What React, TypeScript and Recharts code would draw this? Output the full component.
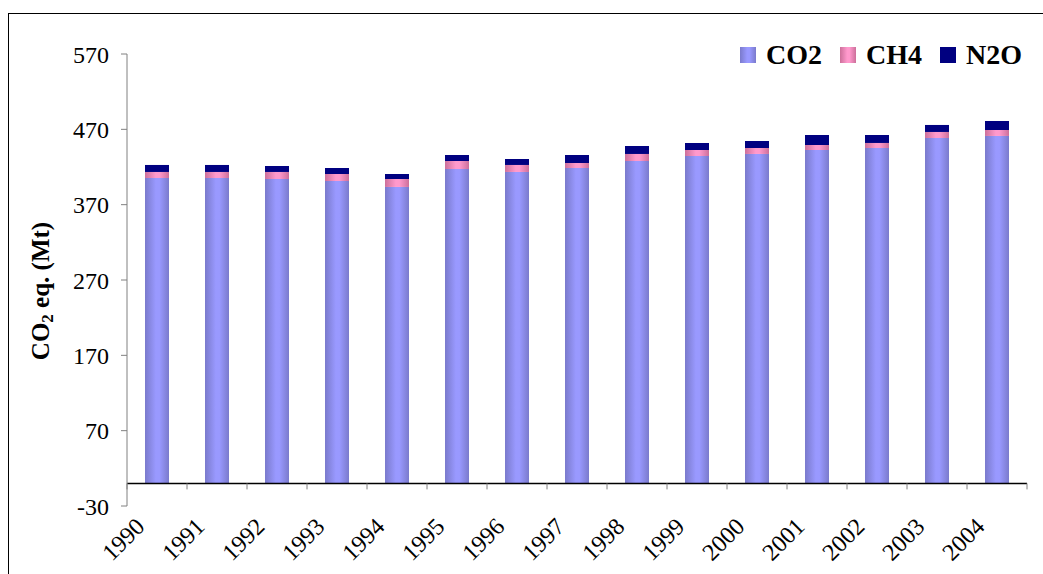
import React from 'react';
import { BarChart, Bar, XAxis, YAxis, ReferenceLine, Legend } from 'recharts';

const years = ['1990', '1991', '1992', '1993', '1994', '1995', '1996', '1997', '1998', '1999', '2000', '2001', '2002', '2003', '2004'];
const co2 = [405.4, 405.4, 404.1, 401.4, 393.5, 417.3, 413.4, 418.7, 428.0, 434.6, 437.3, 442.6, 445.2, 458.5, 461.2];
const ch4 = [8.0, 8.0, 9.3, 9.3, 10.6, 10.7, 9.3, 6.6, 9.3, 8.0, 7.9, 6.6, 6.7, 8.0, 7.9];
const n2o = [9.3, 9.3, 7.9, 8.0, 6.6, 7.9, 7.9, 10.6, 10.6, 9.3, 9.3, 13.3, 10.6, 9.3, 12.0];
const yTicks = [-30, 70, 170, 270, 370, 470, 570];
const seriesNames = ['CO2', 'CH4', 'N2O'];

const data = years.map((y, i) => ({ year: y, CO2: co2[i], CH4: ch4[i], N2O: n2o[i] }));

const W = 1043;
const H = 574;
const M_TOP = 54;
const M_RIGHT = 16;
const Y_W = 127;
const X_H = 68;
const PLOT_W = W - Y_W - M_RIGHT;
const PLOT_H = H - M_TOP - X_H;
const Y_MIN = -30;
const Y_MAX = 570;
const ZERO_OFFSET = (PLOT_H * (0 - Y_MIN)) / (Y_MAX - Y_MIN);
const HALF_BAND = PLOT_W / years.length / 2;

const FONT = "'Liberation Serif', 'Times New Roman', serif";

const fills: Record<string, string> = { CO2: 'url(#gCO2)', CH4: 'url(#gCH4)', N2O: '#000080' };
const swatch: Record<string, string> = {
  CO2: 'linear-gradient(to right, #7a7acc 0%, #9999ff 45%, #9999ff 60%, #7a7acc 100%)',
  CH4: 'linear-gradient(to right, #cc6f9a 0%, #ff99cc 45%, #ff99cc 60%, #cc6f9a 100%)',
  N2O: '#000080',
};

const XTick = (props: any) => {
  const { x, y, payload, index } = props;
  const ty = y - ZERO_OFFSET;
  const lx = x - 11;
  const ly = y + 22;
  return (
    <g>
      <line x1={x - HALF_BAND} x2={x - HALF_BAND} y1={ty} y2={ty + 6} stroke="#808080" strokeWidth={1} />
      {index === years.length - 1 && (
        <line x1={x + HALF_BAND} x2={x + HALF_BAND} y1={ty} y2={ty + 6} stroke="#808080" strokeWidth={1} />
      )}
      <text
        x={lx}
        y={ly}
        textAnchor="end"
        transform={`rotate(-45, ${lx}, ${ly})`}
        fontFamily={FONT}
        fontSize={24}
        fill="#000"
      >
        {payload.value}
      </text>
    </g>
  );
};

const YLabel = () => (
  <text
    x={0}
    y={0}
    transform="translate(49, 291) rotate(-90)"
    textAnchor="middle"
    fontFamily={FONT}
    fontSize={25}
    fontWeight="bold"
    fill="#000"
  >
    <tspan>CO</tspan>
    <tspan fontSize={17} dy={4}>2</tspan>
    <tspan dy={-4}> eq. (Mt)</tspan>
  </text>
);

const LegendContent = () => (
  <div style={{ display: 'flex', fontFamily: FONT }}>
    {seriesNames.map((n) => (
      <div key={n} style={{ display: 'flex', alignItems: 'center', width: 100 }}>
        <div style={{ width: 16, height: 16, background: swatch[n], marginRight: 10 }} />
        <span style={{ fontSize: 28, fontWeight: 'bold', lineHeight: '30px', color: '#000' }}>{n}</span>
      </div>
    ))}
  </div>
);

export default function App() {
  return (
    <div style={{ position: 'fixed', left: 0, top: 0, width: W, height: H, overflow: 'hidden', background: '#fff' }}>
      <div style={{ position: 'absolute', left: 8, top: 13, width: 1100, height: 700, border: '1px solid #000' }} />
      <div style={{ position: 'absolute', left: 0, top: 0 }}>
        <BarChart
          width={W}
          height={H}
          data={data}
          margin={{ top: M_TOP, right: M_RIGHT, bottom: 0, left: 0 }}
          barCategoryGap="30%"
        >
          <defs>
            <linearGradient id="gCO2" x1="0" y1="0" x2="1" y2="0">
              <stop offset="0%" stopColor="#7a7acc" />
              <stop offset="45%" stopColor="#9999ff" />
              <stop offset="60%" stopColor="#9999ff" />
              <stop offset="100%" stopColor="#7a7acc" />
            </linearGradient>
            <linearGradient id="gCH4" x1="0" y1="0" x2="1" y2="0">
              <stop offset="0%" stopColor="#cc6f9a" />
              <stop offset="45%" stopColor="#ff99cc" />
              <stop offset="60%" stopColor="#ff99cc" />
              <stop offset="100%" stopColor="#cc6f9a" />
            </linearGradient>
          </defs>
          <XAxis
            dataKey="year"
            height={X_H}
            axisLine={false}
            tickLine={false}
            tickSize={0}
            tickMargin={0}
            interval={0}
            tick={<XTick />}
          />
          <YAxis
            type="number"
            domain={[Y_MIN, Y_MAX]}
            ticks={yTicks}
            interval={0}
            width={Y_W}
            stroke="#808080"
            tickSize={6}
            tickMargin={12}
            tick={{ fill: '#000', fontSize: 24, fontFamily: FONT }}
            label={<YLabel />}
          />
          {seriesNames.map((n) => (
            <Bar key={n} dataKey={n} stackId="a" fill={fills[n]} isAnimationActive={false} />
          ))}
          <ReferenceLine y={0} stroke="#000" strokeWidth={1.5} />
          <Legend
            layout="horizontal"
            verticalAlign="middle"
            align="center"
            content={<LegendContent />}
            wrapperStyle={{ top: 40, left: 740, width: 300, height: 30 }}
          />
        </BarChart>
      </div>
    </div>
  );
}
